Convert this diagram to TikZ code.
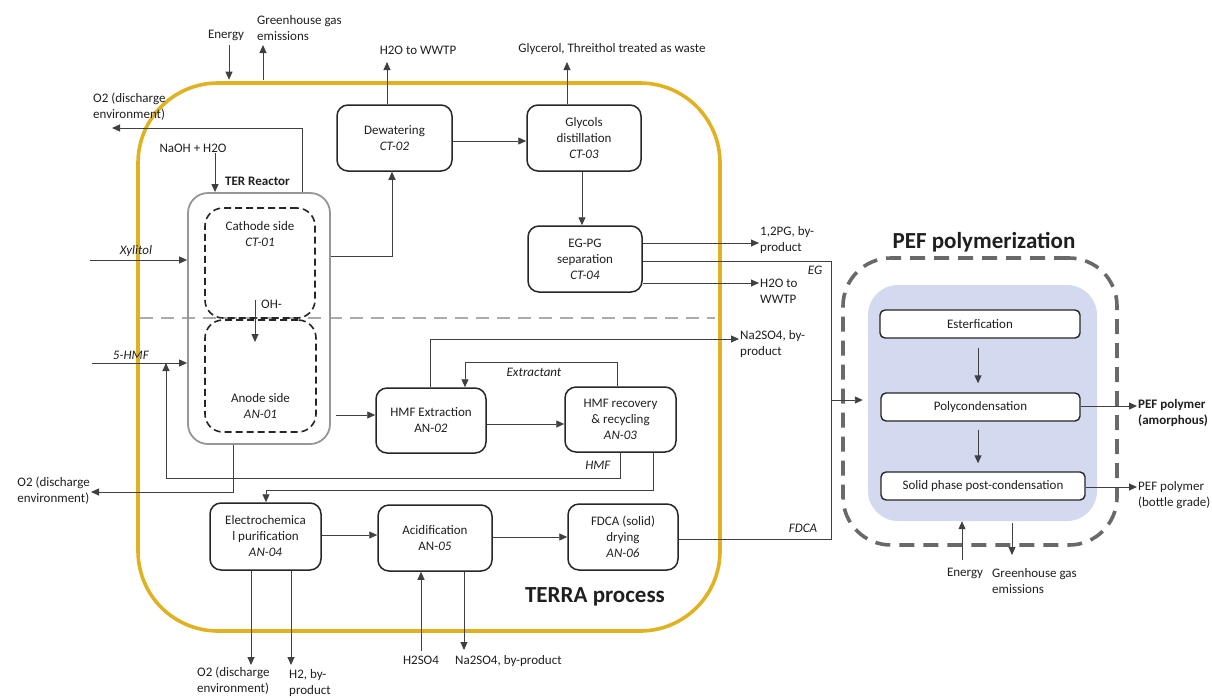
\documentclass[tikz,border=0pt]{standalone}
\usepackage{fontspec}
\setmainfont{Carlito}
\usetikzlibrary{arrows.meta,calc}
\definecolor{terragold}{RGB}{224,178,34}
\definecolor{pefblue}{RGB}{211,218,240}
\definecolor{dashgray}{RGB}{105,105,105}
\definecolor{reactorgray}{RGB}{150,150,150}
\begin{document}
\begin{tikzpicture}[x=1pt,y=-1pt,
  every node/.style={text=black!88, font=\fontsize{13}{16}\selectfont},
  unitbox/.style 2 args={draw=black!85, line width=1.5pt, rounded corners=11pt,
    align=center, inner sep=1pt, minimum width=#1, minimum height=#2},
  pefstep/.style={draw=black!85, line width=1.4pt, fill=white, rounded corners=5pt,
    inner sep=1pt, minimum height=28pt},
  sidebox/.style={draw=black!85, line width=1.6pt, dash pattern=on 7pt off 4pt,
    rounded corners=18pt},
  lbl/.style={inner sep=1pt, align=left},
  ctr/.style={inner sep=1pt, align=center},
  title/.style={font=\bfseries\fontsize{23}{27}\selectfont},
  flow/.style={draw=black!75, line width=0.9pt},
  arr/.style={flow, -{Triangle[length=8pt,width=7pt]}},
]
\useasboundingbox (0,0) rectangle (1212,697);

% ---------- TERRA process frame ----------
\node[draw=terragold, line width=3.6pt, rounded corners=80pt,
      minimum width=582pt, minimum height=548pt] (terra) at (429,357) {};
\draw[draw=black!33, line width=1.6pt, dash pattern=on 13pt off 8pt]
  (140,318) coordinate (divL) -- (715,318) coordinate (divR);
\node[title] (terratitle) at (595,597) {TERRA process};

% ---------- TER reactor ----------
\node[draw=reactorgray, line width=1.8pt, rounded corners=20pt,
      minimum width=142pt, minimum height=251pt] (ter) at (259,318.5) {};
\node[sidebox, minimum width=110pt, minimum height=110pt] (cat) at (260,263) {};
\node[sidebox, minimum width=111pt, minimum height=112pt] (anode) at (260.5,376) {};
\node[ctr] (cattxt) at (260,234) {Cathode side\\\textit{CT-01}};
\node[ctr] (antxt) at (260.5,406) {Anode side\\\textit{AN-01}};
\node[anchor=west, inner sep=1pt, font=\bfseries\fontsize{13}{16}\selectfont] (terlbl) at (224,181) {TER Reactor};

% ---------- process units ----------
\node[unitbox={115pt}{66pt}] (dew) at (394.5,138) {Dewatering\\\textit{CT-02}};
\node[unitbox={114pt}{66pt}] (gly) at (584,138) {Glycols\\distillation\\\textit{CT-03}};
\node[unitbox={114pt}{66pt}] (egpg) at (585,259) {EG-PG\\separation\\\textit{CT-04}};
\node[unitbox={110pt}{65pt}] (ext) at (431,420.5) {HMF Extraction\\AN-\textit{02}};
\node[unitbox={111pt}{65pt}] (rec) at (620.5,419.5) {HMF recovery\\\& recycling\\\textit{AN-03}};
\node[unitbox={111pt}{67pt}] (ech) at (265.5,536.5) {Electrochemica\\l purification\\\textit{AN-04}};
\node[unitbox={114pt}{66pt}] (acid) at (435,538) {Acidification\\AN-\textit{05}};
\node[unitbox={110pt}{66pt}] (fdca) at (623,537) {FDCA (solid)\\drying\\\textit{AN-06}};

% ---------- PEF polymerization ----------
\node[draw=dashgray, line width=3.6pt, dash pattern=on 15pt off 9pt, rounded corners=48pt,
      minimum width=274pt, minimum height=287pt] (pefzone) at (980,401.5) {};
\node[fill=pefblue, rounded corners=30pt, minimum width=229pt, minimum height=236pt] (pefcore) at (982.5,403) {};
\node[title] (peftitle) at (984,242) {PEF polymerization};
\node[pefstep, minimum width=200pt] (est) at (980,324) {Esterfication};
\node[pefstep, minimum width=199pt] (poly) at (980.5,407) {Polycondensation};
\node[pefstep, minimum width=204pt] (ssp) at (983,486) {Solid phase post-condensation};

% ---------- utilities at the TERRA frame ----------
\node[ctr] (enlbl) at (226,35) {Energy};
\coordinate (entop) at (229,45);
\draw[arr, shorten >=1.5pt] (entop) -- (entop |- terra.north);
\node[lbl, anchor=west] (ghglbl) at (256,28) {Greenhouse gas\\emissions};
\coordinate (ghgtop) at (263,45);
\draw[arr, shorten <=1.5pt] (ghgtop |- terra.north) -- (ghgtop);

% ---------- cathode line ----------
\node[ctr] (naohlbl) at (193,148) {NaOH + H2O};
\draw[arr] (naohlbl.south -| 215,0) -- (ter.north -| 215,0);
\node[lbl, anchor=west] (o2tlbl) at (92,107) {O2 (discharge\\environment)};
\coordinate (o2ttip) at (112,128);
\draw[arr] (ter.north -| 302,0) |- (o2ttip);
\coordinate (xylin) at (90,260);
\draw[arr] (xylin) -- (ter.west |- xylin);
\node[ctr] (xyllbl) at (136,251) {\textit{Xylitol}};
\draw[arr] (ter.east |- 0,256) -| (dew.south -| 392,0);
\coordinate (h2otip) at (387,62);
\draw[arr] (h2otip |- dew.north) -- (h2otip);
\node[ctr] (h2olbl) at (418,50) {H2O to WWTP};
\draw[arr] (dew.east |- 0,141) -- (gly.west |- 0,141);
\coordinate (glytip) at (567,62);
\draw[arr] (glytip |- gly.north) -- (glytip);
\node[ctr] (glylbl) at (612,49) {Glycerol, Threithol treated as waste};
\draw[arr] (gly.south -| 582,0) -- (egpg.north -| 582,0);
\node[lbl, anchor=west] (pglbl) at (759,240) {1,2PG, by-\\product};
\draw[arr] (egpg.east |- 0,243) -- (pglbl.west |- 0,243);
\node[lbl, anchor=west] (wwtplbl) at (759,291) {H2O to\\WWTP};
\draw[arr] (egpg.east |- 0,283) -- (wwtplbl.west |- 0,283);
\node[ctr] (eglbl) at (815,270) {\textit{EG}};

% ---------- anode line ----------
\coordinate (ohstart) at (255,300);
\coordinate (ohtip) at (255,342);
\draw[arr] (ohstart) -- (ohtip);
\node[anchor=west, inner sep=1pt] (ohlbl) at (260,304) {OH-};
\coordinate (hmfin) at (92,363);
\draw[arr] (hmfin) -- (ter.west |- hmfin);
\node[ctr] (hmfinlbl) at (131,355) {\textit{5-HMF}};
\draw[arr, shorten <=5pt] (ter.east |- 0,415) -- (ext.west |- 0,415);
\draw[arr] (ext.east |- 0,424) -- (rec.west |- 0,424);
\coordinate (xtop) at (465,362);
\draw[arr] (rec.north -| 617,0) |- (xtop) -- (xtop |- ext.north);
\node[ctr] (xlbl) at (534,372) {\textit{Extractant}};
\node[lbl, anchor=west] (nalbl) at (739,344) {Na2SO4, by-\\product};
\draw[arr] (ext.north -| 430,0) |- (nalbl.west |- 0,339);
\coordinate (hmfcorner) at (166,478);
\coordinate (hmftip) at (166,363);
\draw[arr] (rec.south -| 620,0) |- (hmfcorner) -- (hmftip);
\node[ctr] (hmflbl) at (598,465) {\textit{HMF}};
\coordinate (echfeed) at (266,490);
\draw[arr] (rec.south -| 653,0) |- (echfeed) -- (ech.north -| echfeed);
\node[lbl, anchor=east] (o2blbl) at (91,491) {O2 (discharge\\environment)};
\draw[arr] (ter.south -| 233,0) |- (o2blbl.east |- 0,492);

% ---------- FDCA train ----------
\draw[arr] (ech.east |- 0,535) -- (acid.west |- 0,535);
\draw[arr] (acid.east |- 0,537) -- (fdca.west |- 0,537);
\coordinate (o2btip) at (251,665);
\draw[arr] (ech.south -| o2btip) -- (o2btip);
\node[lbl, anchor=north west] (o2b2lbl) at (196,666) {O2 (discharge\\environment)};
\coordinate (h2tip) at (291,665);
\draw[arr] (ech.south -| h2tip) -- (h2tip);
\node[lbl, anchor=north west] (h2lbl) at (288,668) {H2, by-\\product};
\node[ctr] (h2so4lbl) at (421,660) {H2SO4};
\draw[arr] (h2so4lbl.north) ++(0,-4) coordinate (h2so4start) -- (acid.south -| h2so4start);
\coordinate (na2tip) at (464,650);
\draw[arr] (acid.south -| na2tip) -- (na2tip);
\node[lbl, anchor=west] (na2lbl) at (454,661) {Na2SO4, by-product};
\node[ctr] (fdcalbl) at (803,528) {\textit{FDCA}};

% ---------- feeds into PEF polymerization ----------
\coordinate (pefjoin) at (831,400);
\draw[flow] (egpg.east |- 0,261) -| (pefjoin);
\draw[flow] (fdca.east |- 0,539) -| (pefjoin);
\draw[arr, shorten >=5pt] (pefjoin) -- (pefcore.west |- pefjoin);

\draw[arr, shorten <=9pt, shorten >=9pt] (est.south -| 978,0) -- (poly.north -| 978,0);
\draw[arr, shorten <=8pt, shorten >=8pt] (poly.south -| 978,0) -- (ssp.north -| 978,0);
\node[lbl, anchor=west, font=\bfseries\fontsize{13}{16}\selectfont] (amlbl) at (1137,413) {PEF polymer\\(amorphous)};
\draw[arr] (poly.east |- 0,406) -- (amlbl.west |- 0,406);
\node[lbl, anchor=west] (btlbl) at (1137,495) {PEF polymer\\(bottle grade)};
\draw[arr] (ssp.east |- 0,487) -- (btlbl.west |- 0,487);
\node[ctr] (en2lbl) at (965,573) {Energy};
\coordinate (en2start) at (962,560);
\draw[arr] (en2start) -- (en2start |- pefcore.south);
\node[lbl, anchor=west] (ghg2lbl) at (991,581) {Greenhouse gas\\emissions};
\coordinate (ghg2tip) at (1012,555);
\draw[arr, shorten <=2pt] (ghg2tip |- pefcore.south) -- (ghg2tip);
\end{tikzpicture}
\end{document}
